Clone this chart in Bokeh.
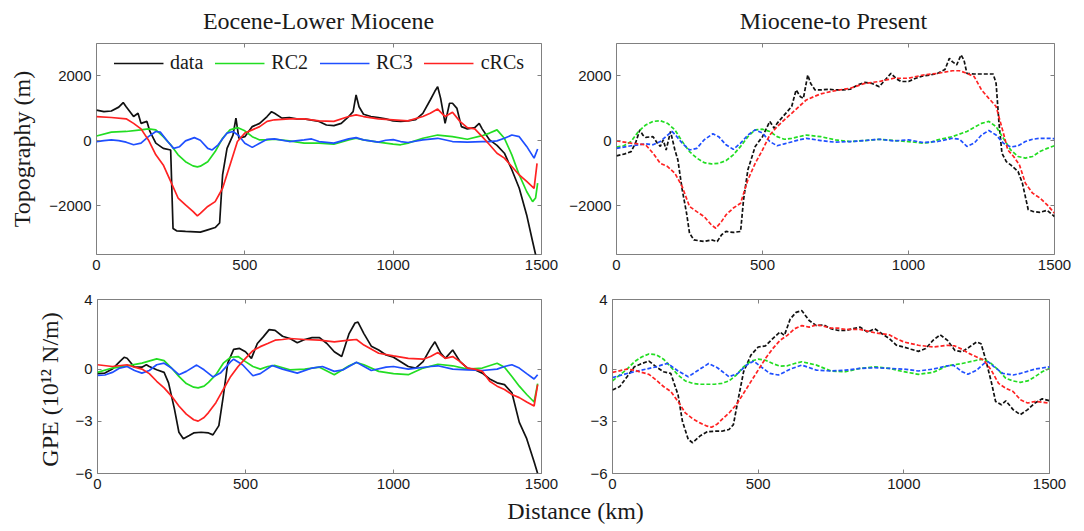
from bokeh.plotting import figure
from bokeh.models import Range1d, FixedTicker, LinearAxis, Label, Legend, LegendItem
from bokeh.layouts import column, row
from bokeh.embed import file_html
from bokeh.resources import INLINE

# ---------------- data ----------------
x_ticks = [0, 500, 1000, 1500]
topo_ticks = [-2000, 0, 2000]
gpe_ticks = [-6, -3, 0, 4]
titles = ["Eocene-Lower Miocene", "Miocene-to Present"]
series_names = ["data", "RC2", "RC3", "cRCs"]

# Top-left: Eocene-Lower Miocene topography (m)
tl_data_x = [0, 25, 50, 75, 90, 100, 125, 140, 150, 170, 180, 200, 225, 250, 258, 270, 300, 350, 375, 400,
             415, 425, 440, 460, 470, 480, 500, 525, 550, 575, 590, 600, 625, 650, 675, 700, 750, 775, 800,
             825, 850, 865, 875, 885, 900, 925, 950, 975, 1000, 1025, 1050, 1075, 1100, 1125, 1140, 1150,
             1160, 1175, 1190, 1200, 1215, 1230, 1250, 1275, 1290, 1300, 1325, 1350, 1375, 1400, 1425,
             1450, 1470, 1480, 1487]
tl_data_y = [950, 900, 920, 1040, 1180, 1050, 750, 850, 540, 600, 290, -70, -230, -280, -2700, -2770, -2790,
             -2810, -2740, -2670, -2530, -1050, -230, 180, 700, 80, 130, 440, 540, 750, 900, 850, 700, 720,
             680, 680, 600, 490, 470, 540, 750, 900, 1415, 1050, 820, 750, 720, 680, 615, 600, 615, 650, 850,
             1260, 1520, 1670, 1310, 540, 1160, 1160, 1000, 440, 370, 410, 540, 370, 30, -140, -380, -890,
             -1460, -2280, -3100, -3500, -3900]
tl_crc_x = [0, 50, 100, 125, 150, 175, 200, 225, 250, 275, 300, 325, 340, 350, 375, 400, 425, 450, 475, 500,
            525, 550, 575, 600, 650, 700, 750, 800, 850, 875, 900, 950, 1000, 1050, 1100, 1125, 1150, 1175,
            1200, 1225, 1250, 1275, 1300, 1325, 1350, 1375, 1400, 1425, 1450, 1475, 1485]
tl_crc_y = [750, 720, 680, 540, 370, 30, -430, -740, -1250, -1760, -1970, -2170, -2310, -2230, -2020, -1870,
            -1460, -740, -20, 240, 340, 440, 600, 650, 680, 680, 615, 600, 750, 800, 750, 680, 650, 615, 750,
            850, 980, 750, 880, 600, 410, 370, 130, -120, -380, -530, -790, -1050, -1250, -1460, -690]
tl_rc2_x = [0, 50, 100, 150, 175, 200, 225, 250, 275, 300, 325, 340, 350, 375, 400, 425, 450, 475, 500, 525,
            550, 575, 600, 650, 700, 750, 800, 850, 875, 900, 950, 1000, 1025, 1050, 1100, 1150, 1200, 1250,
            1300, 1325, 1350, 1375, 1400, 1425, 1450, 1470, 1480, 1487]
tl_rc2_y = [150, 270, 290, 340, 370, 340, 130, -120, -430, -640, -770, -800, -780, -640, -330, 80, 340, 410,
            310, 130, 30, 30, 50, 0, -70, -70, -100, 30, 80, 30, -40, -100, -120, -70, 80, 180, 130, 50, 160,
            240, 340, 80, -430, -1050, -1560, -1870, -1760, -1300]
tl_rc3_x = [0, 25, 50, 75, 100, 125, 150, 175, 200, 215, 240, 260, 280, 300, 330, 350, 375, 390, 410, 440,
            460, 480, 500, 525, 550, 575, 600, 650, 700, 725, 750, 800, 850, 875, 900, 950, 975, 1000, 1025,
            1050, 1100, 1150, 1200, 1250, 1300, 1325, 1350, 1375, 1400, 1425, 1450, 1475, 1487]
tl_rc3_y = [-20, 10, 30, 10, -40, -120, -70, 130, 290, 270, -20, -230, -180, 0, 100, 20, -230, -280, -120,
            240, 290, 160, -70, -200, -70, 50, 60, -20, 30, 60, -20, -70, 60, 100, 30, -40, 20, 40, -20, -50,
            30, 80, -20, -40, -20, -20, 0, 80, 180, 130, -170, -530, -250]

# Top-right: Miocene-to Present topography (m)
tr_data_x = [0, 25, 50, 65, 80, 90, 100, 125, 140, 150, 160, 170, 185, 200, 210, 225, 240, 250, 265, 300, 325,
             345, 360, 375, 400, 425, 435, 450, 475, 500, 525, 540, 550, 575, 600, 615, 630, 640, 655, 665,
             680, 700, 725, 750, 775, 800, 825, 850, 875, 900, 925, 940, 960, 975, 1000, 1025, 1050, 1075,
             1100, 1125, 1140, 1150, 1165, 1180, 1190, 1200, 1225, 1250, 1275, 1290, 1300, 1310, 1320, 1335,
             1350, 1375, 1390, 1400, 1410, 1425, 1450, 1475, 1500]
tr_data_y = [-460, -410, -330, -70, 340, 180, 110, 130, -70, -170, 30, -280, 290, -280, -580, -1500, -2230,
             -2840, -3050, -3100, -3050, -3100, -2890, -2790, -2820, -2790, -1820, -890, -170, 130, 600, 390,
             540, 800, 1060, 1570, 1360, 1310, 2030, 1770, 1570, 1570, 1590, 1570, 1570, 1590, 1720, 1800,
             1770, 1670, 1930, 2080, 1900, 1830, 1830, 1930, 2000, 2030, 2080, 2200, 2540, 2440, 2340, 2650,
             2490, 2080, 2060, 2060, 2060, 2060, 1770, 540, -380, -640, -740, -940, -1300, -1710, -2120, -2170,
             -2200, -2140, -2330]
tr_crc_x = [0, 50, 100, 125, 150, 175, 200, 225, 250, 275, 300, 325, 340, 360, 375, 400, 425, 450, 475, 500,
            525, 550, 575, 600, 625, 650, 675, 700, 750, 800, 850, 900, 950, 1000, 1050, 1100, 1150, 1175,
            1200, 1225, 1250, 1275, 1300, 1325, 1340, 1360, 1380, 1400, 1425, 1450, 1475, 1500]
tr_crc_y = [0, -70, -120, -380, -690, -790, -1000, -1410, -2020, -2180, -2330, -2590, -2690, -2480, -2280,
            -2070, -1920, -1200, -690, -280, 180, 440, 650, 850, 1060, 1260, 1360, 1450, 1550, 1620, 1770,
            1830, 1930, 1930, 2030, 2080, 2160, 2160, 2080, 1980, 1570, 1310, 1060, 240, -280, -480, -740,
            -1300, -1610, -1760, -1970, -2230]
tr_rc2_x = [0, 25, 50, 75, 100, 125, 150, 175, 200, 225, 250, 275, 300, 325, 350, 375, 400, 425, 450, 475, 500,
            525, 550, 575, 600, 650, 700, 750, 800, 850, 900, 950, 1000, 1050, 1075, 1100, 1150, 1200, 1250,
            1275, 1300, 1325, 1350, 1375, 1400, 1425, 1450, 1475, 1500]
tr_rc2_y = [-190, -150, -20, 290, 490, 600, 620, 540, 340, -20, -330, -530, -670, -710, -690, -610, -430, -170,
            130, 340, 360, 290, 130, 50, 80, 180, 130, 30, -20, 10, 50, 10, -20, -70, -50, 30, 130, 290, 540,
            600, 440, 80, -280, -480, -530, -480, -330, -230, -150]
tr_rc3_x = [0, 50, 100, 125, 150, 175, 190, 200, 225, 250, 275, 300, 330, 350, 375, 400, 425, 450, 475, 500,
            525, 550, 575, 625, 650, 700, 750, 800, 850, 900, 950, 1000, 1050, 1100, 1150, 1175, 1200, 1225,
            1250, 1275, 1300, 1325, 1350, 1375, 1400, 1425, 1450, 1475, 1500]
tr_rc3_y = [-230, -150, -90, -120, -20, 180, 290, 200, -70, -280, -230, 30, 220, 130, -120, -260, -70, 180,
            340, 240, -20, -150, -90, 30, 80, 10, -40, -20, 10, 50, 0, 30, -50, -20, 80, 50, -170, -70, 180,
            320, 180, -70, -190, -150, -20, 50, 80, 80, 70]

# Bottom-left: Eocene-Lower Miocene GPE (10^12 N/m)
bl_data_x = [0, 25, 50, 75, 90, 100, 125, 150, 165, 175, 200, 225, 240, 260, 275, 290, 310, 325, 350, 375,
             390, 410, 425, 440, 460, 480, 500, 520, 540, 560, 580, 600, 625, 650, 675, 700, 725, 750, 775,
             800, 825, 850, 870, 880, 900, 925, 950, 975, 1000, 1050, 1075, 1100, 1125, 1140, 1160, 1175,
             1200, 1225, 1250, 1275, 1300, 1325, 1350, 1375, 1400, 1425, 1450, 1475, 1487]
bl_data_y = [-0.26, -0.23, 0.0, 0.43, 0.68, 0.62, 0.11, 0.11, 0.25, 0.15, -0.04, -0.19, -0.79, -2.3, -3.63,
             -4.0, -3.82, -3.67, -3.63, -3.67, -3.78, -3.25, -1.55, 0.34, 1.13, 1.19, 1.0, 0.62, 1.47, 1.85,
             2.27, 2.23, 1.89, 1.76, 1.51, 1.7, 1.81, 1.81, 1.47, 1.0, 0.72, 2.04, 2.65, 2.7, 2.04, 1.32,
             1.1, 0.81, 0.68, 0.15, 0.06, 0.43, 1.19, 1.57, 0.91, 0.62, 1.1, 0.43, 0.06, -0.04, -0.23,
             -0.57, -0.79, -0.89, -1.36, -3.06, -4.0, -5.33, -6.0]
bl_crc_x = [0, 50, 100, 125, 150, 175, 200, 225, 250, 275, 300, 325, 340, 360, 375, 400, 425, 450, 475, 500,
            525, 550, 575, 600, 625, 650, 700, 750, 800, 850, 875, 900, 950, 1000, 1050, 1100, 1125, 1150,
            1175, 1200, 1225, 1250, 1275, 1300, 1325, 1350, 1375, 1400, 1425, 1450, 1475, 1487]
bl_crc_y = [0.25, 0.15, 0.25, 0.11, 0.0, -0.26, -0.7, -1.08, -1.55, -2.12, -2.59, -2.91, -2.99, -2.78, -2.5,
            -1.93, -1.17, -0.42, 0.15, 0.62, 1.06, 1.29, 1.47, 1.66, 1.7, 1.76, 1.7, 1.66, 1.57, 1.66, 1.7,
            1.38, 0.91, 0.76, 0.62, 0.57, 0.72, 0.95, 0.62, 0.72, 0.43, 0.06, 0.0, -0.13, -0.7, -0.98,
            -1.17, -1.46, -1.64, -1.89, -2.12, -0.89]
bl_rc2_x = [0, 50, 100, 150, 200, 225, 250, 275, 300, 325, 340, 360, 375, 400, 425, 450, 475, 500, 525, 550,
            575, 600, 650, 700, 750, 800, 850, 875, 900, 950, 1000, 1050, 1100, 1150, 1200, 1250, 1300, 1350,
            1375, 1400, 1425, 1450, 1475, 1487]
bl_rc2_y = [-0.19, 0.06, 0.19, 0.34, 0.59, 0.49, 0.06, -0.42, -0.83, -1.04, -1.08, -0.98, -0.76, -0.32, 0.34,
            0.68, 0.72, 0.43, 0.15, 0.0, 0.15, 0.21, -0.04, 0.0, 0.11, -0.32, 0.19, 0.38, 0.25, -0.13, -0.26,
            -0.32, 0.06, 0.28, 0.19, 0.0, 0.06, 0.34, 0.11, -0.42, -0.98, -1.46, -1.89, -0.83]
bl_rc3_x = [0, 25, 50, 75, 100, 125, 150, 175, 200, 225, 250, 275, 300, 335, 360, 390, 415, 450, 460, 490,
            525, 550, 590, 625, 675, 725, 760, 800, 830, 875, 925, 975, 1000, 1050, 1125, 1150, 1200, 1250,
            1300, 1350, 1375, 1400, 1425, 1450, 1475, 1487]
bl_rc3_y = [-0.36, -0.34, -0.19, 0.06, 0.15, -0.08, -0.23, -0.08, 0.25, 0.34, 0.06, -0.32, -0.13, 0.23, -0.04,
            -0.45, -0.23, 0.43, 0.57, 0.25, -0.38, -0.26, 0.21, 0.0, -0.23, 0.06, 0.15, -0.13, -0.04, 0.4,
            -0.08, 0.11, 0.15, 0.0, 0.15, 0.19, 0.0, -0.04, -0.08, 0.0, 0.15, 0.25, 0.06, -0.26, -0.57, -0.32]

# Bottom-right: Miocene-to Present GPE (10^12 N/m)
br_data_x = [0, 25, 50, 75, 100, 125, 150, 175, 200, 225, 240, 260, 275, 300, 325, 350, 375, 400, 415, 430,
             450, 475, 500, 525, 550, 575, 590, 610, 630, 650, 675, 700, 725, 750, 775, 800, 825, 850, 875,
             900, 925, 950, 975, 1000, 1025, 1050, 1075, 1100, 1125, 1150, 1175, 1200, 1225, 1250, 1265,
             1280, 1300, 1315, 1335, 1350, 1375, 1400, 1425, 1450, 1475, 1500]
br_data_y = [-1.2, -1.0, -0.44, 0.13, 0.32, 0.46, 0.13, -0.15, -0.25, -1.48, -3.0, -4.04, -4.23, -3.85, -3.6,
             -3.57, -3.57, -3.47, -3.19, -1.86, -0.15, 0.8, 1.27, 1.33, 1.75, 2.13, 1.94, 2.88, 3.26, 3.36,
             2.79, 2.5, 2.54, 2.32, 2.22, 2.22, 2.32, 2.41, 2.13, 2.32, 2.03, 1.75, 1.37, 1.27, 1.14, 1.02,
             1.18, 1.65, 1.97, 1.65, 1.08, 0.99, 1.27, 1.56, 1.46, 0.61, -0.72, -1.86, -2.05, -1.82, -2.33,
             -2.62, -2.33, -1.95, -1.71, -1.82]
br_crc_x = [0, 50, 75, 100, 125, 150, 175, 200, 225, 250, 275, 300, 325, 340, 360, 375, 400, 425, 450, 475,
            500, 525, 550, 575, 600, 625, 650, 675, 700, 725, 750, 775, 800, 850, 900, 950, 975, 1000, 1050,
            1100, 1150, 1175, 1200, 1225, 1250, 1275, 1300, 1325, 1350, 1375, 1400, 1425, 1450, 1475, 1500]
br_crc_y = [-0.19, 0.0, -0.06, -0.19, -0.3, -0.63, -1.0, -1.29, -1.86, -2.52, -2.85, -3.09, -3.28, -3.34,
            -3.15, -2.9, -2.52, -2.05, -1.39, -0.72, -0.06, 0.61, 1.18, 1.65, 1.94, 2.32, 2.5, 2.41, 2.54,
            2.47, 2.35, 2.35, 2.28, 2.28, 2.09, 1.97, 1.75, 1.56, 1.37, 1.27, 1.37, 1.33, 1.14, 0.89, 0.7,
            0.51, -0.06, -0.82, -1.1, -1.29, -1.76, -1.95, -1.86, -1.9, -1.95]
br_rc2_x = [0, 25, 50, 75, 100, 125, 150, 175, 200, 225, 250, 275, 300, 350, 375, 400, 425, 450, 475, 500,
            525, 550, 575, 600, 625, 650, 700, 750, 800, 850, 900, 950, 1000, 1050, 1100, 1150, 1200, 1250,
            1275, 1300, 1325, 1350, 1375, 1400, 1425, 1450, 1475, 1500]
br_rc2_y = [-0.68, -0.34, 0.0, 0.42, 0.7, 0.87, 0.83, 0.57, 0.13, -0.34, -0.68, -0.82, -0.87, -0.87, -0.82,
            -0.68, -0.34, 0.13, 0.46, 0.57, 0.51, 0.32, 0.17, 0.19, 0.32, 0.42, 0.23, -0.11, -0.15, 0.04,
            0.13, 0.04, -0.15, -0.3, -0.19, 0.19, 0.32, 0.51, 0.57, 0.32, -0.06, -0.53, -0.68, -0.76, -0.68,
            -0.44, -0.15, 0.04]
br_rc3_x = [0, 50, 100, 150, 175, 190, 225, 260, 290, 330, 360, 400, 430, 460, 485, 510, 540, 570, 610, 650,
            700, 750, 800, 850, 900, 950, 1000, 1050, 1100, 1150, 1170, 1200, 1220, 1250, 1275, 1290, 1310,
            1340, 1375, 1400, 1450, 1500]
br_rc3_y = [-0.49, -0.25, -0.06, 0.13, 0.27, 0.32, -0.11, -0.44, -0.11, 0.32, 0.08, -0.44, -0.25, 0.23, 0.46,
            0.13, -0.25, -0.34, 0.0, 0.23, -0.06, -0.11, -0.06, 0.04, 0.08, 0.04, 0.0, -0.11, 0.0, 0.19, 0.23,
            -0.15, -0.3, -0.06, 0.32, 0.42, 0.13, -0.25, -0.34, -0.25, 0.0, 0.13]

# ---------------- style ----------------
COLORS = ["#111111", "#22dd22", "#1f4fff", "#ff2222"]
BOX = "#808080"
SERIF = "Liberation Serif"
SANS = "Liberation Sans"


def make_fig(w, h, left, right, top, bottom, yr, yticks, ylabel=None, ylabel_standoff=12):
    p = figure(width=w, height=h, min_border_left=left, min_border_right=right,
               min_border_top=top, min_border_bottom=bottom,
               x_range=Range1d(0, 1500), y_range=Range1d(*yr),
               x_axis_type=None, y_axis_type=None,
               output_backend="svg", toolbar_location=None)
    p.outline_line_color = BOX
    p.outline_line_width = 1
    p.background_fill_color = "white"
    p.border_fill_color = "white"
    for loc in ["below", "left", "above", "right"]:
        ticks = x_ticks if loc in ("below", "above") else yticks
        ax = LinearAxis(ticker=FixedTicker(ticks=ticks))
        ax.axis_line_color = None
        ax.major_tick_line_color = BOX
        ax.major_tick_in = 4
        ax.major_tick_out = 0
        ax.minor_tick_line_color = None
        if loc in ("above", "right"):
            ax.major_label_text_font_size = "0px"
            ax.major_label_text_color = None
            ax.major_label_standoff = 0
        else:
            ax.major_label_text_font = SANS
            ax.major_label_text_font_size = "15px"
            ax.major_label_text_color = "#1a1a1a"
            ax.major_label_standoff = 5
        if loc == "left" and ylabel:
            ax.axis_label = ylabel
            ax.axis_label_text_font = SERIF
            ax.axis_label_text_font_size = "24px"
            ax.axis_label_text_font_style = "normal"
            ax.axis_label_text_color = "#1a1a1a"
            ax.axis_label_standoff = ylabel_standoff
        p.add_layout(ax, loc)
    return p


def text_strip(height, texts, xs, y):
    s = figure(width=1084, height=height, min_border=0, x_axis_type=None, y_axis_type=None,
               x_range=Range1d(0, 1), y_range=Range1d(0, 1),
               output_backend="svg", toolbar_location=None)
    s.outline_line_color = None
    for t, x in zip(texts, xs):
        s.add_layout(Label(x=x, y=y, x_units="screen", y_units="screen", text=t,
                           text_align="center", text_baseline="middle", text_font=SERIF,
                           text_font_size="24px", text_color="#1a1a1a"))
    return s


def add_lines(p, xs, ys, dash):
    rs = []
    for x, y, c in zip(xs, ys, COLORS):
        r = p.line(x, y, line_color=c, line_width=1.7, line_dash=dash)
        rs.append(r)
    return rs


# titles strip
top_strip = text_strip(35, titles, [318, 833], 15)

# top-left
tl = make_fig(566, 255, 96, 25, 8, 36, (-3500, 3000), topo_ticks, "Topography (m)", 11)
tl_rs = add_lines(tl, [tl_data_x, tl_rc2_x, tl_rc3_x, tl_crc_x],
                  [tl_data_y, tl_rc2_y, tl_rc3_y, tl_crc_y], "solid")
legend = Legend(items=[LegendItem(label=n, renderers=[r]) for n, r in zip(series_names, tl_rs)],
                location="top_center", orientation="horizontal",
                label_text_font=SERIF, label_text_font_size="20px", label_text_color="#1a1a1a",
                glyph_width=50, glyph_height=20, label_standoff=7, spacing=11,
                padding=0, margin=8, border_line_color=None, background_fill_alpha=0)
tl.add_layout(legend)

# top-right
tr = make_fig(518, 255, 45, 30, 8, 36, (-3500, 3000), topo_ticks)
add_lines(tr, [tr_data_x, tr_rc2_x, tr_rc3_x, tr_crc_x],
          [tr_data_y, tr_rc2_y, tr_rc3_y, tr_crc_y], "4 2")

# bottom-left
bl = make_fig(566, 208, 97, 25, 9, 25, (-6, 4), gpe_ticks, "GPE  (10\u00b9\u00b2 N/m)", 9)
add_lines(bl, [bl_data_x, bl_rc2_x, bl_rc3_x, bl_crc_x],
          [bl_data_y, bl_rc2_y, bl_rc3_y, bl_crc_y], "solid")

# bottom-right
br = make_fig(518, 208, 46, 35, 9, 25, (-6, 4), gpe_ticks)
add_lines(br, [br_data_x, br_rc2_x, br_rc3_x, br_crc_x],
          [br_data_y, br_rc2_y, br_rc3_y, br_crc_y], "4 2")

# shared x label strip
lab = text_strip(33, ["Distance (km)"], [575], 21)

layout = column(top_strip, row(tl, tr), row(bl, br), lab)
open("out.html", "w").write(file_html(layout, INLINE))
